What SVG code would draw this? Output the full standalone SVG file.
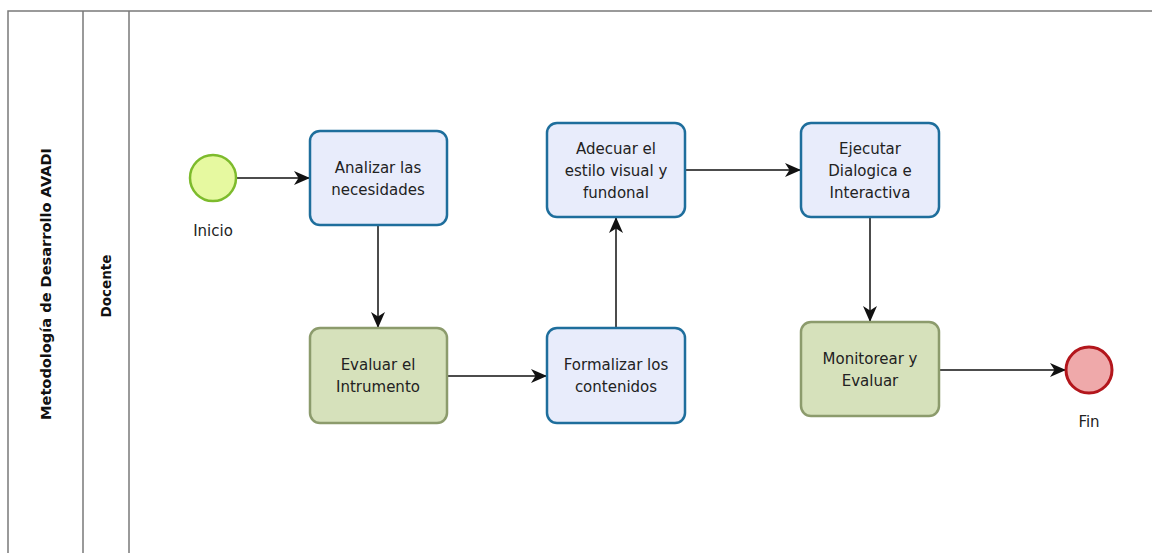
<svg xmlns="http://www.w3.org/2000/svg" width="1152" height="553" viewBox="0 0 1152 553">
<style>
.lane{fill:none;stroke:#7a7a7a;stroke-width:1.5}
.task{fill:#e8ecfb;stroke:#1e6e9c;stroke-width:2.5}
.gtask{fill:#d6e1bb;stroke:#8c9b6c;stroke-width:2.5}
.t{font-family:"DejaVu Sans",sans-serif;font-size:15px;fill:#222;text-anchor:middle}
.h{font-family:"DejaVu Sans",sans-serif;font-size:14px;font-weight:bold;fill:#111;text-anchor:middle}
.c{fill:none;stroke:#111;stroke-width:1.5}
</style>
<defs>
<marker id="arr" viewBox="0 0 16 14" refX="15" refY="7" markerWidth="16" markerHeight="14" markerUnits="userSpaceOnUse" orient="auto">
<path d="M0,0 L16,7 L0,14 L4.5,7 Z" fill="#111"/>
</marker>
</defs>
<rect width="1152" height="553" fill="#fff"/>
<g id="pool">
<path class="lane" d="M1152,11 H8 V553 M83,11 V553 M129,11 V553"/>
<text class="h" transform="translate(51,284) rotate(-90)" textLength="272" lengthAdjust="spacingAndGlyphs">Metodología de Desarrollo AVADI</text>
<text class="h" transform="translate(111,286) rotate(-90)" textLength="63" lengthAdjust="spacingAndGlyphs">Docente</text>
</g>
<g id="connectors">
<line class="c" x1="237" y1="178" x2="309" y2="178" marker-end="url(#arr)"/>
<line class="c" x1="378" y1="226" x2="378" y2="327" marker-end="url(#arr)"/>
<line class="c" x1="448" y1="376" x2="546" y2="376" marker-end="url(#arr)"/>
<line class="c" x1="616" y1="327" x2="616" y2="218" marker-end="url(#arr)"/>
<line class="c" x1="686" y1="170" x2="800" y2="170" marker-end="url(#arr)"/>
<line class="c" x1="870" y1="218" x2="870" y2="321" marker-end="url(#arr)"/>
<line class="c" x1="940" y1="370" x2="1065" y2="370" marker-end="url(#arr)"/>
</g>
<g id="inicio">
<circle cx="213" cy="178" r="23" fill="#e6f9a0" stroke="#7dbb2c" stroke-width="2.5"/>
<text class="t" x="213" y="236">Inicio</text>
</g>
<g id="analizar">
<rect class="task" x="310" y="131" width="137" height="94" rx="10"/>
<text class="t" x="378" y="173">Analizar las</text>
<text class="t" x="378" y="195">necesidades</text>
</g>
<g id="evaluar">
<rect class="gtask" x="310" y="328" width="137" height="95" rx="10"/>
<text class="t" x="378" y="370">Evaluar el</text>
<text class="t" x="378" y="392">Intrumento</text>
</g>
<g id="formalizar">
<rect class="task" x="547" y="328" width="138" height="95" rx="10"/>
<text class="t" x="616" y="370">Formalizar los</text>
<text class="t" x="616" y="392">contenidos</text>
</g>
<g id="adecuar">
<rect class="task" x="547" y="123" width="138" height="94" rx="10"/>
<text class="t" x="616" y="154">Adecuar el</text>
<text class="t" x="616" y="176">estilo visual y</text>
<text class="t" x="616" y="198">fundonal</text>
</g>
<g id="ejecutar">
<rect class="task" x="801" y="123" width="138" height="94" rx="10"/>
<text class="t" x="870" y="154">Ejecutar</text>
<text class="t" x="870" y="176">Dialogica e</text>
<text class="t" x="870" y="198">Interactiva</text>
</g>
<g id="monitorear">
<rect class="gtask" x="801" y="322" width="138" height="94" rx="10"/>
<text class="t" x="870" y="364">Monitorear y</text>
<text class="t" x="870" y="386">Evaluar</text>
</g>
<g id="fin">
<circle cx="1089" cy="370" r="23" fill="#efa9aa" stroke="#b3161c" stroke-width="3"/>
<text class="t" x="1089" y="427">Fin</text>
</g>
</svg>
